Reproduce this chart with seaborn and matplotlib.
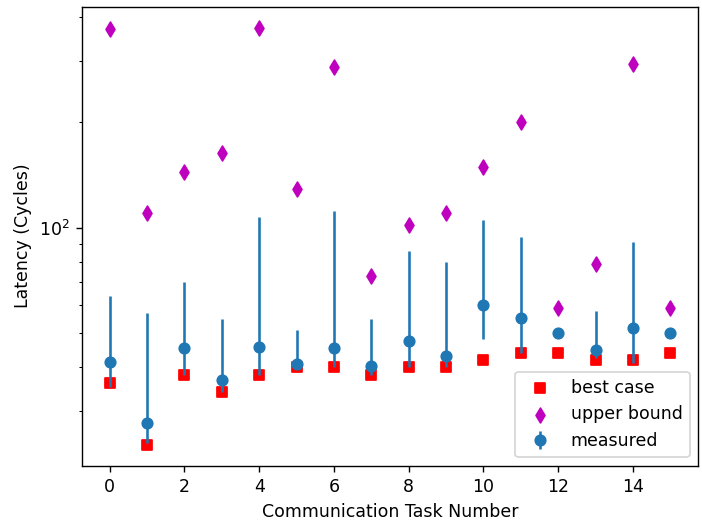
"""Latency per communication task: best case, upper bound and measured range."""

import matplotlib

matplotlib.use("Agg")
import matplotlib.pyplot as plt
import numpy as np
import pandas as pd
import seaborn as sns

tasks = list(range(16))
best_case = [36, 24, 38, 34, 38, 40, 40, 38, 40, 40, 42, 44, 44, 42, 42, 44]
upper_bound = [370, 110, 144, 163, 373, 129, 287, 73, 102, 110, 149, 200, 59, 79, 293, 59]
measured = [41.4, 27.7, 45.3, 36.8, 45.8, 40.9, 45.5, 40.3, 47.4, 42.9, 60.1, 55.3, 50.1, 44.8, 51.7, 50.1]
measured_low = [35, 24.3, 38, 34, 38, 40, 40, 38, 40, 40, 48, 44, 50.1, 42.5, 41, 50.1]
measured_high = [64, 57, 70, 55, 107, 51, 112, 55, 86, 80, 105, 94, 50.1, 58, 91, 50.1]

df = pd.DataFrame({"task": tasks, "best": best_case, "upper": upper_bound})

fig, ax = plt.subplots(figsize=(5.616, 4.184), dpi=125)
fig.subplots_adjust(left=0.1164, right=0.9947, top=0.9872, bottom=0.1096)

sns.scatterplot(data=df, x="task", y="best", marker="s", s=36, color="r",
                edgecolor="r", linewidth=1.0, label="best case", ax=ax)
sns.scatterplot(data=df, x="task", y="upper", marker="d", s=36, color="m",
                edgecolor="m", linewidth=1.0, label="upper bound", ax=ax)

meas = np.array(measured)
yerr = [meas - np.array(measured_low), np.array(measured_high) - meas]
ax.errorbar(tasks, meas, yerr=yerr, fmt="o", color="C0", label="measured")

ax.set_yscale("log")
ax.set_xlabel("Communication Task Number")
ax.set_ylabel("Latency (Cycles)")
ax.legend(loc="lower right")

fig.savefig("out.png", dpi=125)
